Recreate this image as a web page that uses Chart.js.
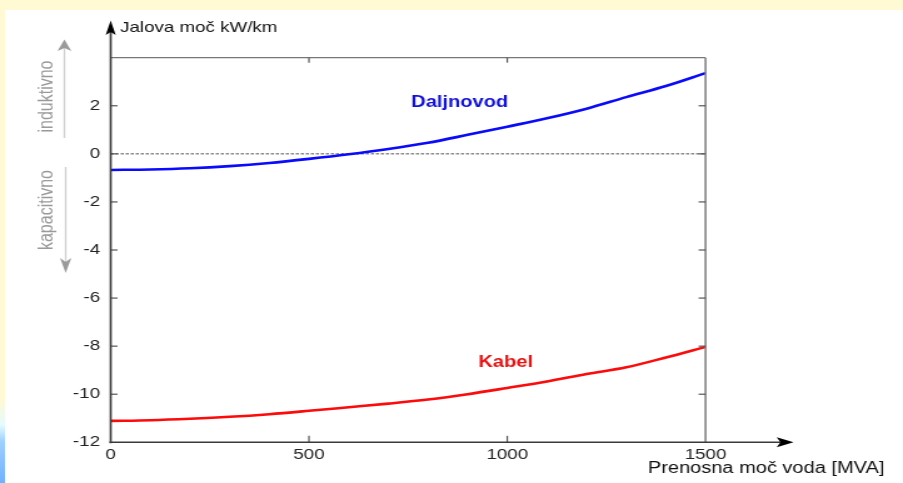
<!DOCTYPE html>
<html>
<head>
<meta charset="utf-8">
<script src="https://cdn.jsdelivr.net/npm/chart.js@4/dist/chart.umd.min.js"></script>
<style>
  html, body { margin: 0; padding: 0; background: #ffffff; overflow: hidden; }
  #c { display: block; width: 903px !important; height: 483px !important; }
</style>
</head>
<body>
<canvas id="c" width="722" height="483" style="width:903px;height:483px"></canvas>
<script>
// ---- data ----
const xValues   = [0, 100, 200, 300, 400, 500, 600, 700, 800, 900, 1000, 1100, 1200, 1300, 1400, 1500];
const daljnovod = [-0.67, -0.65, -0.60, -0.51, -0.38, -0.21, -0.02, 0.20, 0.46, 0.79, 1.13, 1.48, 1.88, 2.36, 2.82, 3.36];
const kabel     = [-11.11, -11.08, -11.02, -10.94, -10.83, -10.69, -10.54, -10.39, -10.22, -10.00, -9.74, -9.47, -9.16, -8.88, -8.47, -8.03];
const xTicks      = [0, 500, 1000, 1500];
const xTickLabels = ['0', '500', '1000', '1500'];
const yTicks      = [-12, -10, -8, -6, -4, -2, 0, 2];
const yTickLabels = ['-12', '-10', '-8', '-6', '-4', '-2', '0', '2'];
const seriesNames = ['Daljnovod', 'Kabel'];
const yAxisTitle = 'Jalova moč kW/km';
const xAxisTitle = 'Prenosna moč voda [MVA]';
const upLabel = 'induktivno';
const downLabel = 'kapacitivno';
const xMin = 0, xMax = 1500, yMin = -12, yMax = 4;

const FONT = '"Liberation Sans", Arial, sans-serif';

const decor = {
  id: 'decor',
  beforeDraw(chart) {
    const ctx = chart.ctx, W = chart.width, H = chart.height;
    ctx.save();
    ctx.fillStyle = '#fff9d4';
    ctx.fillRect(0, 0, W, H);
    const g = ctx.createLinearGradient(0, 400, 0, H);
    g.addColorStop(0, '#fff9d4');
    g.addColorStop(0.3, '#e6fbff');
    g.addColorStop(0.5, '#9fd0ff');
    g.addColorStop(1, '#6fb0ff');
    ctx.fillStyle = g;
    ctx.fillRect(0, 400, 4, H - 400);
    ctx.fillStyle = '#ffffff';
    ctx.fillRect(4, 10, W - 4, H - 10);
    ctx.restore();
  },
  beforeDatasetsDraw(chart) {
    const ctx = chart.ctx, a = chart.chartArea, y = chart.scales.y;
    const y0 = y.getPixelForValue(0);
    ctx.save();
    ctx.strokeStyle = '#222';
    ctx.lineWidth = 0.8;
    ctx.setLineDash([2.5, 1.5]);
    ctx.beginPath();
    ctx.moveTo(a.left, y0);
    ctx.lineTo(a.right, y0);
    ctx.stroke();
    ctx.restore();
  },
  afterDraw(chart) {
    const ctx = chart.ctx, a = chart.chartArea, xs = chart.scales.x, ys = chart.scales.y;
    ctx.save();
    ctx.setLineDash([]);
    // top border
    ctx.strokeStyle = '#777';
    ctx.lineWidth = 1.3;
    ctx.beginPath(); ctx.moveTo(a.left, a.top); ctx.lineTo(a.right, a.top); ctx.stroke();
    // right border
    ctx.strokeStyle = '#7a7a7a';
    ctx.lineWidth = 1.5;
    ctx.beginPath(); ctx.moveTo(a.right, a.top); ctx.lineTo(a.right, a.bottom); ctx.stroke();
    // inward ticks
    ctx.strokeStyle = '#555';
    ctx.lineWidth = 1.2;
    yTicks.forEach(v => {
      if (v === yMin) return;
      const p = ys.getPixelForValue(v);
      ctx.beginPath(); ctx.moveTo(a.left, p); ctx.lineTo(a.left + 5.5, p); ctx.stroke();
      ctx.beginPath(); ctx.moveTo(a.right, p); ctx.lineTo(a.right - 5.5, p); ctx.stroke();
    });
    xTicks.forEach(v => {
      if (v === xMin || v === xMax) return;
      const p = xs.getPixelForValue(v);
      ctx.beginPath(); ctx.moveTo(p, a.bottom); ctx.lineTo(p, a.bottom - 6.5); ctx.stroke();
      ctx.beginPath(); ctx.moveTo(p, a.top); ctx.lineTo(p, a.top + 5); ctx.stroke();
    });
    // y axis with arrow
    ctx.strokeStyle = '#3a3a3a';
    ctx.fillStyle = '#000';
    ctx.lineWidth = 1.7;
    ctx.beginPath(); ctx.moveTo(a.left, a.bottom + 1); ctx.lineTo(a.left, 30); ctx.stroke();
    ctx.beginPath();
    ctx.moveTo(a.left, 20.5);
    ctx.lineTo(a.left - 4, 35);
    ctx.lineTo(a.left, 32);
    ctx.lineTo(a.left + 4, 35);
    ctx.closePath(); ctx.fill();
    // x axis with arrow
    ctx.lineWidth = 1.5;
    ctx.beginPath(); ctx.moveTo(a.left - 1, a.bottom); ctx.lineTo(628, a.bottom); ctx.stroke();
    ctx.beginPath();
    ctx.moveTo(634.5, a.bottom);
    ctx.lineTo(621, a.bottom - 5);
    ctx.lineTo(624, a.bottom);
    ctx.lineTo(621, a.bottom + 5);
    ctx.closePath(); ctx.fill();
    // axis titles
    ctx.fillStyle = '#111';
    ctx.textAlign = 'left';
    ctx.textBaseline = 'alphabetic';
    ctx.font = '15px ' + FONT;
    ctx.fillText(yAxisTitle, 96, 32);
    ctx.font = '16px ' + FONT;
    ctx.fillText(xAxisTitle, 518, 473);
    // series labels
    ctx.font = 'bold 16px ' + FONT;
    ctx.textAlign = 'center';
    ctx.textBaseline = 'middle';
    ctx.fillStyle = '#1010e0';
    ctx.fillText(seriesNames[0], xs.getPixelForValue(880), ys.getPixelForValue(2.15));
    ctx.fillStyle = '#ee1010';
    ctx.fillText(seriesNames[1], xs.getPixelForValue(996), ys.getPixelForValue(-8.68));
    // side labels (rotated)
    ctx.font = '16px ' + FONT;
    ctx.fillStyle = '#9a9a9a';
    ctx.textBaseline = 'alphabetic';
    ctx.save();
    ctx.translate(42, 96.5); ctx.rotate(-Math.PI / 2);
    ctx.fillText(upLabel, 0, 0);
    ctx.restore();
    ctx.save();
    ctx.translate(41.5, 210); ctx.rotate(-Math.PI / 2);
    ctx.fillText(downLabel, 0, 0);
    ctx.restore();
    // side arrows
    ctx.strokeStyle = '#cfcfcf';
    ctx.lineWidth = 1.3;
    ctx.beginPath(); ctx.moveTo(51.5, 138); ctx.lineTo(51.5, 48); ctx.stroke();
    ctx.beginPath(); ctx.moveTo(52.5, 167); ctx.lineTo(52.5, 262); ctx.stroke();
    ctx.fillStyle = '#9a9a9a';
    ctx.beginPath();
    ctx.moveTo(51.5, 39.5); ctx.lineTo(46, 51); ctx.lineTo(51.5, 48); ctx.lineTo(57, 51);
    ctx.closePath(); ctx.fill();
    ctx.beginPath();
    ctx.moveTo(52.5, 273); ctx.lineTo(48, 258); ctx.lineTo(52.5, 262); ctx.lineTo(57, 258);
    ctx.closePath(); ctx.fill();
    ctx.restore();
  }
};

new Chart(document.getElementById('c'), {
  type: 'line',
  data: {
    datasets: [
      {
        label: seriesNames[0],
        data: xValues.map((x, i) => ({ x: x, y: daljnovod[i] })),
        borderColor: '#0a0aff',
        borderWidth: 2.6,
        pointRadius: 0,
        cubicInterpolationMode: 'monotone',
        fill: false
      },
      {
        label: seriesNames[1],
        data: xValues.map((x, i) => ({ x: x, y: kabel[i] })),
        borderColor: '#ff0a0a',
        borderWidth: 2.6,
        pointRadius: 0,
        cubicInterpolationMode: 'monotone',
        fill: false
      }
    ]
  },
  options: {
    responsive: false,
    animation: false,
    events: [],
    layout: { padding: { left: 0, right: 157.9, top: 57.7, bottom: 10.7 } },
    plugins: { legend: { display: false }, tooltip: { enabled: false } },
    scales: {
      x: {
        type: 'linear',
        min: xMin, max: xMax,
        afterBuildTicks: s => { s.ticks = xTicks.map(v => ({ value: v })); },
        afterFit: s => { s.height = 30; },
        grid: { display: false, drawTicks: false },
        border: { display: false },
        ticks: {
          padding: 4,
          maxRotation: 0,
          autoSkip: false,
          color: '#222',
          font: { family: FONT, size: 15 },
          callback: (v, i) => xTickLabels[i]
        }
      },
      y: {
        type: 'linear',
        min: yMin, max: yMax,
        afterBuildTicks: s => { s.ticks = yTicks.map(v => ({ value: v })); },
        afterFit: s => { s.width = 88.5; },
        grid: { display: false, drawTicks: false },
        border: { display: false },
        ticks: {
          padding: 8.5,
          autoSkip: false,
          color: '#222',
          font: { family: FONT, size: 15 },
          callback: (v, i) => yTickLabels[i]
        }
      }
    }
  },
  plugins: [decor]
});
</script>
</body>
</html>
